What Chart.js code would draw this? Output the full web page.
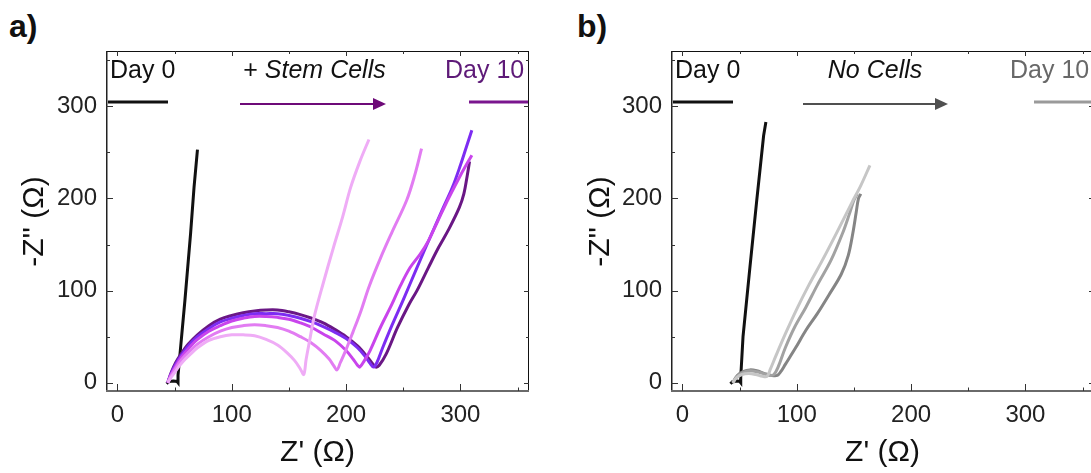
<!DOCTYPE html>
<html><head><meta charset="utf-8">
<script src="https://cdn.jsdelivr.net/npm/chart.js@4.4.1/dist/chart.umd.min.js"></script>
<style>
html,body{margin:0;padding:0;background:#fff;width:1091px;height:473px;overflow:hidden;position:relative;}
#wa{position:absolute;left:0;top:0;width:545px;height:473px;}
#wb{position:absolute;left:545px;top:0;width:565px;height:473px;}
.lbl{position:absolute;font-family:"Liberation Sans",Arial,sans-serif;font-weight:bold;font-size:32px;line-height:32px;color:#111;}
</style></head><body>
<div class="lbl" style="left:9px;top:10px">a)</div>
<div class="lbl" style="left:577px;top:10px">b)</div>
<div id="wa"><canvas id="ca"></canvas></div>
<div id="wb"><canvas id="cb"></canvas></div>
<script>
// ---------- data (Z', -Z'') ----------
const X_TICKS = [0, 100, 200, 300];
const X_MINOR = [50, 150, 250, 350];
const Y_TICKS = [0, 100, 200, 300];
const Y_MINOR = [50, 150, 250, 350];

// Panel a: + Stem Cells
const A_DAY0 = [[43,-1],[45,1.5],[49,2],[52,1.5],[53,0],[53,8],[55,35],[59,89],[64,162],[67,212],[70,253]];
const A_S1 = [[44,0],[47,6],[50,11],[54,18],[58,24],[63,30],[70,38],[80,46],[90,50],[100,52],[110,52],[120,51],[130,47],[140,41],[148,33],[155,24],[160,15],[163,9],[165,25],[168,45],[172,71],[180,108],[189,147],[197,180],[204,212],[212,240],[220,264]];
const A_S2 = [[44,0],[47,8],[51,16],[56,25],[62,33],[70,42],[80,50],[90,56],[100,60],[110,62],[120,63],[130,62],[140,60],[150,56],[160,50],[170,43],[178,35],[185,26],[189,19],[192,14],[195,22],[200,36],[206,55],[213,78],[220,104],[230,135],[240,163],[253,198],[260,225],[266,254]];
const A_S3 = [[44,0],[47,9],[51,18],[56,28],[62,37],[70,47],[80,56],[90,62],[100,67],[110,70],[120,72],[130,72],[140,71],[150,69],[160,65],[170,60],[180,53],[190,46],[200,35],[206,26],[210,19],[212,17],[216,24],[221,35],[230,60],[240,85],[247,104],[256,125],[265,140],[272,154],[280,175],[290,201],[300,225],[310,247]];
const A_S4 = [[44,0],[47,10],[51,20],[56,30],[62,40],[70,50],[80,59],[90,66],[100,70],[110,73],[120,75],[130,75],[140,75],[150,73],[160,70],[170,66],[180,61],[190,55],[200,48],[210,38],[217,28],[221,21],[224,17],[227,22],[232,38],[240,62],[250,90],[262,125],[275,162],[285,190],[293,212],[300,236],[305,255],[310,274]];
const A_S5 = [[44,0],[47,11],[51,22],[56,32],[62,42],[70,52],[80,62],[90,69],[100,73],[110,76],[120,78],[130,79],[140,79],[150,77],[160,74],[170,70],[180,65],[190,58],[200,50],[210,40],[218,29],[223,21],[226,17],[229,19],[235,31],[245,60],[255,85],[262,100],[272,125],[281,147],[290,167],[299,190],[303,205],[306,225],[308,240]];

// Panel b: No Cells
const B_DAY0 = [[42,-1],[44,1.5],[48,2],[50,1.5],[51,0],[51,6],[53,50],[59,125],[65,198],[71,268],[73,283]];
const B_G1 = [[44,0],[47,5],[52,9],[58,10],[64,9],[70,7],[74,7],[77,15],[82,30],[90,53],[100,80],[111,107],[122,132],[135,163],[148,195],[156,214],[164,236]];
const B_G2 = [[44,0],[48,7],[53,11],[59,13],[65,12],[71,10],[76,8],[80,9],[84,18],[90,38],[98,60],[108,82],[118,106],[130,133],[140,162],[146,183],[150,198],[153,205]];
const B_G3 = [[44,0],[48,8],[53,12],[59,14],[65,13],[72,10],[78,8],[83,8],[86,12],[90,20],[99,38],[108,57],[118,75],[128,95],[139,118],[145,138],[149,162],[152,185],[154,200],[156,205]];

const FONT = '"Liberation Sans", Arial, sans-serif';
const toXY = arr => arr.map(p => ({x: p[0], y: p[1]}));

function ln(ctx, x1, y1, x2, y2) { ctx.beginPath(); ctx.moveTo(x1, y1); ctx.lineTo(x2, y2); ctx.stroke(); }

const framePlugin = {
  id: 'frame',
  afterDatasetsDraw(chart, args, o) {
    const {ctx, chartArea: a, scales: {x, y}} = chart;
    ctx.save();
    ctx.lineCap = 'butt';
    // frame
    ctx.strokeStyle = '#111'; ctx.lineWidth = 1;
    ln(ctx, a.left, a.top + 0.5, a.right, a.top + 0.5);
    ln(ctx, a.right - 0.5, a.top, a.right - 0.5, a.bottom);
    ctx.strokeStyle = '#222'; ctx.lineWidth = 1.5;
    ln(ctx, a.left + 0.75, a.top, a.left + 0.75, a.bottom);
    ctx.strokeStyle = '#6a6a6a'; ctx.lineWidth = 2;
    ln(ctx, a.left, a.bottom - 1, a.right, a.bottom - 1);
    // ticks
    ctx.strokeStyle = '#333'; ctx.lineWidth = 1;
    X_TICKS.forEach(v => { const p = Math.round(x.getPixelForValue(v)) + 0.5;
      ln(ctx, p, a.bottom - 1, p, a.bottom - 8); ln(ctx, p, a.top, p, a.top + 5); });
    X_MINOR.forEach(v => { const p = Math.round(x.getPixelForValue(v)) + 0.5;
      if (p > a.right - 1) return;
      ln(ctx, p, a.bottom - 1, p, a.bottom - 4.5); ln(ctx, p, a.top, p, a.top + 3); });
    Y_TICKS.forEach(v => { const p = Math.round(y.getPixelForValue(v)) + 0.5;
      ln(ctx, a.left, p, a.left + 7, p); ln(ctx, a.right, p, a.right - 5, p); });
    Y_MINOR.forEach(v => { const p = Math.round(y.getPixelForValue(v)) + 0.5;
      ln(ctx, a.left, p, a.left + 4, p); ln(ctx, a.right, p, a.right - 3, p); });

    // annotations
    const L = a.left, T = a.top;
    ctx.textBaseline = 'alphabetic';
    ctx.font = '25px ' + FONT;
    ctx.fillStyle = '#111'; ctx.textAlign = 'left';
    ctx.fillText('Day 0', L + 4, T + 27);
    ctx.fillStyle = o.day10Text;
    ctx.fillText('Day 10', L + 339, T + 27);
    // mid text
    ctx.fillStyle = '#111';
    ctx.font = 'italic 25px ' + FONT;
    const wMid = ctx.measureText(o.midText).width;
    let wPre = 0;
    if (o.prefix) { ctx.font = '25px ' + FONT; wPre = ctx.measureText(o.prefix).width; }
    const start = L + o.midCenter - (wPre + wMid) / 2;
    if (o.prefix) { ctx.font = '25px ' + FONT; ctx.fillText(o.prefix, start, T + 27); }
    ctx.font = 'italic 25px ' + FONT; ctx.fillText(o.midText, start + wPre, T + 27);
    // lines
    ctx.lineWidth = 3;
    ctx.strokeStyle = '#111'; ln(ctx, L + 2, T + 51, L + 62, T + 51);
    ctx.strokeStyle = o.day10Line; ln(ctx, L + 363, T + 51, a.right - 1, T + 51);
    // arrow
    ctx.lineWidth = 2; ctx.strokeStyle = o.arrow; ctx.fillStyle = o.arrow;
    const ax1 = L + o.arrowStart, ax2 = L + o.arrowEnd, ay = T + 53;
    ln(ctx, ax1, ay, ax2 - 12, ay);
    ctx.beginPath(); ctx.moveTo(ax2, ay); ctx.lineTo(ax2 - 13, ay - 6); ctx.lineTo(ax2 - 13, ay + 6); ctx.closePath(); ctx.fill();
    ctx.restore();
  }
};

function makeChart(id, sets, padLeft, frameOpts) {
  return new Chart(document.getElementById(id), {
    type: 'scatter',
    data: { datasets: sets.map(s => ({
      data: toXY(s.data), showLine: true, borderColor: s.color, backgroundColor: s.color,
      borderWidth: s.w || 3, pointRadius: 0, tension: s.t === undefined ? 0.35 : s.t, fill: false
    })) },
    options: {
      animation: false, responsive: true, maintainAspectRatio: false,
      layout: { padding: { left: padLeft, top: 51, right: 16, bottom: 0 } },
      plugins: { legend: { display: false }, tooltip: { enabled: false }, frame: frameOpts },
      scales: {
        x: { type: 'linear', min: -10, max: 360,
          afterBuildTicks: s => { s.ticks = X_TICKS.map(v => ({value: v})); },
          afterFit: s => { s.height = 81; },
          grid: { display: false, drawTicks: false }, border: { display: false },
          ticks: { font: { family: FONT, size: 24 }, color: '#222', padding: 9, maxRotation: 0 },
          title: { display: true, text: "Z' (Ω)", font: { family: FONT, size: 30 }, color: '#111', padding: { top: 0, bottom: 2 } } },
        y: { type: 'linear', min: -10, max: 360,
          afterBuildTicks: s => { s.ticks = Y_TICKS.map(v => ({value: v})); },
          afterFit: s => { s.width = 106 - padLeft + (padLeft === 17 ? 0 : 20); },
          grid: { display: false, drawTicks: false }, border: { display: false },
          ticks: { font: { family: FONT, size: 24 }, color: '#222', padding: 9 },
          title: { display: true, text: "-Z'' (Ω)", font: { family: FONT, size: 30 }, color: '#111', padding: 0 } }
      }
    },
    plugins: [framePlugin]
  });
}

makeChart('ca', [
  {data: A_S1, color: '#efacf6'},
  {data: A_S2, color: '#e27cf2'},
  {data: A_S3, color: '#c944ec'},
  {data: A_S4, color: '#7d2cf2'},
  {data: A_S5, color: '#6a1785'},
  {data: A_DAY0, color: '#111111', t: 0}
], 17, {day10Text: '#5e1a78', day10Line: '#7a168e', arrow: '#6e0a78', midText: 'Stem Cells', prefix: '+ ', midCenter: 208.5, arrowStart: 134, arrowEnd: 280});

makeChart('cb', [
  {data: B_G1, color: '#c6c6c6'},
  {data: B_G2, color: '#a2a2a2'},
  {data: B_G3, color: '#858585'},
  {data: B_DAY0, color: '#111111', t: 0}
], 38, {day10Text: '#686868', day10Line: '#9a9a9a', arrow: '#505050', midText: 'No Cells', prefix: '', midCenter: 204, arrowStart: 132, arrowEnd: 277});
</script>
</body></html>
